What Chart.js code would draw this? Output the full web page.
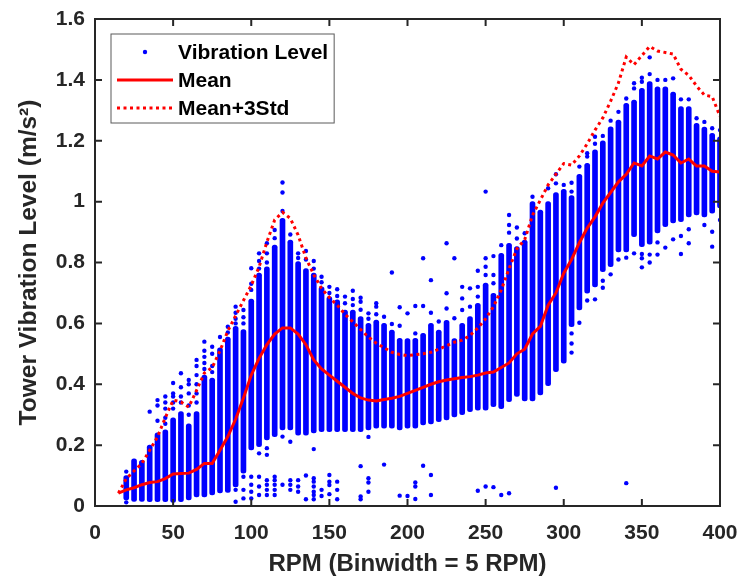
<!DOCTYPE html>
<html>
<head>
<meta charset="utf-8">
<script src="https://cdn.jsdelivr.net/npm/chart.js@4.4.1/dist/chart.umd.min.js"></script>
<style>
  html, body { margin: 0; padding: 0; background: #fff; }
  #wrap { width: 742px; height: 579px; position: relative; }
</style>
</head>
<body>
<div id="wrap"><canvas id="vibChart"></canvas></div>
<script>
// RPM bins (binwidth = 5 RPM)
var rpmBins = [20, 25, 30, 35, 40, 45, 50, 55, 60, 65, 70, 75, 80, 85, 90, 95, 100, 105, 110, 115,
               120, 125, 130, 135, 140, 145, 150, 155, 160, 165, 170, 175, 180, 185, 190, 195, 200, 205, 210, 215,
               220, 225, 230, 235, 240, 245, 250, 255, 260, 265, 270, 275, 280, 285, 290, 295, 300, 305, 310, 315,
               320, 325, 330, 335, 340, 345, 350, 355, 360, 365, 370, 375, 380, 385, 390, 395, 400];

// dense part of each bin (lower / upper end of the dot column)
var colLow  = [0.02, 0.015, 0.015, 0.014, 0.014, 0.014, 0.012, 0.014, 0.02, 0.03, 0.03, 0.036, 0.043, 0.045, 0.063, 0.108, 0.184, 0.195, 0.217, 0.228,
               0.25, 0.25, 0.233, 0.233, 0.24, 0.244, 0.244, 0.244, 0.244, 0.244, 0.244, 0.25, 0.256, 0.256, 0.256, 0.25, 0.256, 0.256, 0.266, 0.27,
               0.277, 0.283, 0.293, 0.3, 0.31, 0.315, 0.315, 0.326, 0.32, 0.343, 0.36, 0.345, 0.345, 0.365, 0.395, 0.441, 0.469, 0.589, 0.644, 0.699,
               0.72, 0.77, 0.786, 0.835, 0.835, 0.885, 0.852, 0.86, 0.897, 0.918, 0.93, 0.934, 0.95, 0.956, 0.95, 0.962, 0.979];
var colHigh = [0.10, 0.155, 0.15, 0.2, 0.24, 0.25, 0.29, 0.31, 0.27, 0.31, 0.43, 0.42, 0.52, 0.555, 0.59, 0.58, 0.68, 0.765, 0.786, 0.857,
               0.945, 0.874, 0.803, 0.78, 0.765, 0.72, 0.688, 0.677, 0.644, 0.644, 0.622, 0.6, 0.611, 0.6, 0.578, 0.551, 0.55, 0.551, 0.567, 0.6,
               0.578, 0.61, 0.55, 0.6, 0.622, 0.666, 0.732, 0.699, 0.83, 0.863, 0.852, 0.874, 1.0, 0.972, 1.0, 1.03, 1.04, 1.02, 1.09, 1.126,
               1.17, 1.2, 1.246, 1.268, 1.323, 1.334, 1.372, 1.394, 1.377, 1.377, 1.36, 1.312, 1.312, 1.257, 1.245, 1.224, 1.213];

// isolated dots above / below the dense columns
var sparseDots = [
  [20, 0.012], [20, 0.113], [35, 0.31], [40, 0.348], [40, 0.33], [40, 0.28],
  [45, 0.36], [45, 0.34], [45, 0.32], [45, 0.29], [45, 0.27], [50, 0.404], [50, 0.37], [50, 0.36], [50, 0.34], [50, 0.32],
  [55, 0.436], [55, 0.39], [55, 0.36], [55, 0.34], [60, 0.414], [60, 0.4], [60, 0.37], [60, 0.33], [60, 0.3],
  [65, 0.48], [65, 0.46], [65, 0.43], [65, 0.4], [65, 0.37], [65, 0.34], [70, 0.54], [70, 0.51], [70, 0.49], [70, 0.47], [70, 0.45],
  [75, 0.523], [75, 0.5], [75, 0.46], [75, 0.44], [80, 0.555], [85, 0.589], [85, 0.57],
  [90, 0.655], [90, 0.635], [90, 0.615], [90, 0.6], [90, 0.053], [90, 0.014],
  [95, 0.644], [95, 0.62], [95, 0.6], [95, 0.096], [95, 0.053], [95, 0.025],
  [100, 0.781], [100, 0.73], [100, 0.71], [100, 0.096], [100, 0.07], [100, 0.047], [100, 0.025],
  [105, 0.83], [105, 0.805], [105, 0.78], [105, 0.173], [105, 0.096], [105, 0.064], [105, 0.036],
  [110, 0.863], [110, 0.83], [110, 0.8], [110, 0.19], [110, 0.168], [110, 0.085], [110, 0.07], [110, 0.053], [110, 0.036],
  [115, 0.907], [115, 0.88], [115, 0.096], [115, 0.085], [115, 0.07], [115, 0.053], [115, 0.036],
  [120, 1.063], [120, 1.03], [120, 0.969], [120, 0.228], [120, 0.07],
  [125, 0.892], [125, 0.211], [125, 0.085], [125, 0.07], [125, 0.053],
  [130, 0.83], [130, 0.815], [130, 0.085], [130, 0.064], [130, 0.047],
  [135, 0.838], [135, 0.81], [135, 0.1], [135, 0.022],
  [140, 0.805], [140, 0.78], [140, 0.187], [140, 0.091], [140, 0.08], [140, 0.064], [140, 0.047], [140, 0.036], [140, 0.022],
  [145, 0.753], [145, 0.735], [145, 0.053], [145, 0.033],
  [150, 0.72], [150, 0.7], [150, 0.102], [150, 0.08], [150, 0.069], [150, 0.039],
  [155, 0.712], [155, 0.69], [155, 0.08], [155, 0.053], [155, 0.022],
  [160, 0.688], [160, 0.666], [165, 0.707], [165, 0.68], [165, 0.66],
  [170, 0.684], [170, 0.671], [170, 0.645], [170, 0.131], [170, 0.031], [170, 0.022],
  [175, 0.633], [175, 0.615], [175, 0.227], [175, 0.091], [175, 0.077], [175, 0.047],
  [180, 0.666], [180, 0.655], [180, 0.63], [185, 0.622], [185, 0.136],
  [190, 0.767], [190, 0.598], [195, 0.653], [195, 0.592], [195, 0.034], [200, 0.633], [200, 0.033],
  [205, 0.657], [205, 0.567], [205, 0.077], [205, 0.064], [205, 0.023],
  [210, 0.814], [210, 0.657], [210, 0.132], [215, 0.742], [215, 0.635], [215, 0.102], [215, 0.036],
  [220, 0.606], [225, 0.863], [225, 0.699], [225, 0.649], [230, 0.814], [230, 0.617],
  [235, 0.72], [235, 0.682], [235, 0.644], [240, 0.715], [240, 0.655],
  [245, 0.773], [245, 0.72], [245, 0.688], [245, 0.05], [250, 1.033], [250, 0.814], [250, 0.786], [250, 0.759], [250, 0.064],
  [255, 0.821], [255, 0.759], [255, 0.732], [255, 0.062], [260, 0.857], [260, 0.036],
  [265, 0.956], [265, 0.923], [265, 0.898], [265, 0.042], [270, 0.915], [270, 0.879], [275, 0.896],
  [280, 1.016], [290, 1.044], [295, 1.09], [295, 1.06], [295, 0.06], [300, 1.055],
  [305, 1.062], [305, 1.033], [305, 0.567], [305, 0.534], [305, 0.504], [310, 1.115], [310, 0.602],
  [315, 1.159], [315, 1.148], [315, 0.675], [320, 1.213], [320, 1.19], [320, 0.679],
  [325, 1.216], [325, 0.74], [325, 0.717], [330, 1.266], [330, 0.761], [335, 1.295], [335, 0.81],
  [340, 1.339], [340, 0.816], [340, 0.075], [345, 1.389], [345, 1.372], [345, 0.83],
  [350, 1.407], [350, 1.394], [350, 0.828], [350, 0.814], [350, 0.784], [355, 1.474], [355, 1.419], [355, 0.826], [355, 0.8],
  [360, 1.4], [360, 0.866], [360, 0.826], [365, 1.4], [365, 0.849], [370, 1.405], [370, 0.876],
  [375, 1.336], [375, 0.887], [375, 0.828], [380, 1.336], [380, 0.909], [380, 0.863],
  [385, 1.274], [390, 1.262], [390, 0.923], [395, 1.241], [395, 0.901], [395, 0.852], [400, 1.235], [400, 0.94]
];

// Mean and Mean+3Std per bin
var statRpm = [15, 20, 25, 30, 35, 40, 45, 50, 55, 60, 65, 70, 75, 80, 85, 90, 95, 100, 105, 110,
               115, 120, 125, 130, 135, 140, 145, 150, 155, 160, 165, 170, 175, 180, 185, 190, 195, 200, 205, 210,
               215, 220, 225, 230, 235, 240, 245, 250, 255, 260, 265, 270, 275, 280, 285, 290, 295, 300, 305, 310,
               315, 320, 325, 330, 335, 340, 345, 350, 355, 360, 365, 370, 375, 380, 385, 390, 395, 400];
var meanVals = [0.042, 0.053, 0.06, 0.07, 0.077, 0.08, 0.09, 0.105, 0.107, 0.108, 0.12, 0.14, 0.14, 0.183, 0.228, 0.285, 0.355, 0.43, 0.485, 0.53,
                0.565, 0.585, 0.585, 0.565, 0.53, 0.48, 0.45, 0.43, 0.41, 0.39, 0.37, 0.355, 0.348, 0.345, 0.35, 0.354, 0.36, 0.37, 0.38, 0.39,
                0.4, 0.408, 0.414, 0.418, 0.422, 0.425, 0.43, 0.437, 0.44, 0.455, 0.47, 0.5, 0.515, 0.565, 0.59, 0.66, 0.7, 0.765, 0.81, 0.865,
                0.913, 0.95, 0.995, 1.03, 1.065, 1.09, 1.127, 1.117, 1.15, 1.14, 1.163, 1.153, 1.127, 1.14, 1.117, 1.117, 1.1, 1.097];
var mean3StdVals = [0.042, 0.09, 0.115, 0.14, 0.183, 0.227, 0.29, 0.348, 0.342, 0.325, 0.38, 0.437, 0.455, 0.51, 0.575, 0.625, 0.675, 0.725, 0.785, 0.867,
                    0.94, 0.965, 0.945, 0.89, 0.815, 0.76, 0.715, 0.685, 0.66, 0.63, 0.605, 0.58, 0.555, 0.535, 0.52, 0.505, 0.498, 0.494, 0.497, 0.5,
                    0.505, 0.515, 0.527, 0.538, 0.545, 0.56, 0.585, 0.615, 0.655, 0.71, 0.78, 0.845, 0.875, 0.955, 1.005, 1.055, 1.09, 1.125, 1.12, 1.15,
                    1.19, 1.235, 1.275, 1.33, 1.39, 1.475, 1.45, 1.48, 1.51, 1.495, 1.49, 1.485, 1.435, 1.415, 1.38, 1.35, 1.345, 1.28];

var axisColor = '#262626';
var fontFamily = '"Liberation Sans", Arial, Helvetica, sans-serif';

// MATLAB style box with inward ticks on all four sides
var boxAxes = {
    id: 'boxAxes',
    afterDatasetsDraw: function (chart) {
        var ctx = chart.ctx, a = chart.chartArea;
        var xs = chart.scales.x, ys = chart.scales.y;
        var tl = 7;
        ctx.save();
        ctx.strokeStyle = axisColor;
        ctx.lineWidth = 2;
        ctx.beginPath();
        xs.ticks.forEach(function (t) {
            var px = xs.getPixelForValue(t.value);
            ctx.moveTo(px, a.bottom); ctx.lineTo(px, a.bottom - tl);
            ctx.moveTo(px, a.top); ctx.lineTo(px, a.top + tl);
        });
        ys.ticks.forEach(function (t) {
            var py = ys.getPixelForValue(t.value);
            ctx.moveTo(a.left, py); ctx.lineTo(a.left + tl, py);
            ctx.moveTo(a.right, py); ctx.lineTo(a.right - tl, py);
        });
        ctx.stroke();
        ctx.strokeRect(a.left, a.top, a.right - a.left, a.bottom - a.top);
        ctx.restore();
    }
};

// legend box in the upper left corner
var boxLegend = {
    id: 'boxLegend',
    afterDraw: function (chart) {
        var ctx = chart.ctx, a = chart.chartArea;
        var x0 = a.left + 16, y0 = a.top + 15;
        var rows = [a.top + 33, a.top + 61, a.top + 89];
        var labels = ['Vibration Level', 'Mean', 'Mean+3Std'];
        ctx.save();
        ctx.font = 'bold 21px ' + fontFamily;
        var w = 0;
        labels.forEach(function (l) { w = Math.max(w, ctx.measureText(l).width); });
        var textX = x0 + 67;
        ctx.fillStyle = '#ffffff';
        ctx.fillRect(x0, y0, textX + w + 6 - x0, 89);
        ctx.strokeStyle = '#5a5a5a';
        ctx.lineWidth = 1;
        ctx.strokeRect(x0, y0, textX + w + 6 - x0, 89);

        ctx.fillStyle = '#0000ff';
        ctx.beginPath();
        ctx.arc(x0 + 34, rows[0], 2.2, 0, Math.PI * 2);
        ctx.fill();

        ctx.strokeStyle = '#ff0000';
        ctx.lineWidth = 3;
        ctx.beginPath();
        ctx.moveTo(x0 + 6, rows[1]); ctx.lineTo(x0 + 62, rows[1]);
        ctx.stroke();
        ctx.setLineDash([3, 3.5]);
        ctx.beginPath();
        ctx.moveTo(x0 + 6, rows[2]); ctx.lineTo(x0 + 62, rows[2]);
        ctx.stroke();
        ctx.setLineDash([]);

        ctx.fillStyle = '#000000';
        ctx.textBaseline = 'middle';
        labels.forEach(function (l, i) { ctx.fillText(l, textX, rows[i] + 1); });
        ctx.restore();
    }
};

new Chart(document.getElementById('vibChart'), {
    type: 'scatter',
    data: {
        datasets: [
            {
                label: 'Mean',
                type: 'line',
                data: statRpm.map(function (x, i) { return { x: x, y: meanVals[i] }; }),
                borderColor: '#ff0000',
                borderWidth: 3,
                pointRadius: 0,
                tension: 0,
                fill: false,
                order: 0
            },
            {
                label: 'Mean+3Std',
                type: 'line',
                data: statRpm.map(function (x, i) { return { x: x, y: mean3StdVals[i] }; }),
                borderColor: '#ff0000',
                borderWidth: 3,
                borderDash: [3, 3.5],
                pointRadius: 0,
                tension: 0,
                fill: false,
                order: 1
            },
            {
                label: 'Vibration Level',
                data: sparseDots.map(function (p) { return { x: p[0], y: p[1] }; }),
                backgroundColor: '#0000ff',
                borderWidth: 0,
                pointRadius: 2.2,
                order: 2
            },
            {
                label: 'columns',
                type: 'bar',
                data: rpmBins.map(function (x, i) { return { x: x, y: [colLow[i], colHigh[i]] }; }),
                backgroundColor: '#0000ff',
                barThickness: 5,
                borderRadius: 2.5,
                borderSkipped: false,
                order: 3
            }
        ]
    },
    options: {
        responsive: true,
        maintainAspectRatio: false,
        animation: false,
        layout: { padding: { top: 19, right: 22, left: 0, bottom: 0 } },
        plugins: {
            legend: { display: false },
            tooltip: { enabled: false }
        },
        scales: {
            x: {
                type: 'linear',
                min: 0, max: 400,
                offset: false,
                afterFit: function (s) { s.height = 73; s.paddingLeft = 0; s.paddingRight = 0; },
                grid: { display: false },
                border: { display: false },
                ticks: { stepSize: 50, color: axisColor, padding: 7, font: { family: fontFamily, size: 21, weight: 'bold' } },
                title: { display: true, text: 'RPM (Binwidth = 5 RPM)', color: axisColor, padding: { bottom: 0, top: 0 },
                         font: { family: fontFamily, size: 24, weight: 'bold' } }
            },
            y: {
                min: 0, max: 1.6,
                afterFit: function (s) { s.width = 95; s.paddingTop = 0; s.paddingBottom = 0; },
                grid: { display: false },
                border: { display: false },
                ticks: { stepSize: 0.2, color: axisColor, padding: 2, font: { family: fontFamily, size: 21, weight: 'bold' },
                         callback: function (v) { return String(Number(v.toFixed(1))); } },
                title: { display: true, text: 'Tower Vibration Level (m/s²)', color: axisColor, padding: { top: 15, bottom: 0 },
                         font: { family: fontFamily, size: 24.5, weight: 'bold' } }
            }
        }
    },
    plugins: [boxAxes, boxLegend]
});
</script>
</body>
</html>
